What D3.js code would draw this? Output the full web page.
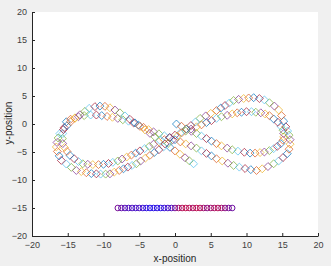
<!DOCTYPE html>
<html>
<head>
<meta charset="utf-8">
<script src="https://cdn.jsdelivr.net/npm/d3@7"></script>
<style>
  body { margin: 0; background: #f0f0f0; }
  svg { display: block; font-family: 'Liberation Sans', Arial, sans-serif; }
</style>
</head>
<body>
<svg class="chart"></svg>
<script>
// first lap of the estimated track (x, y)
const lap1 = [
  [0.2,0],[0.9,-0.4],[1.6,-0.85],[2.3,-1.3],[3,-1.7],[3.7,-2.15],[4.4,-2.6],[5.1,-3.05],[5.8,-3.5],
  [6.5,-3.9],[7.3,-4.3],[8,-4.6],[8.8,-4.85],[9.7,-5.05],[10.5,-5.2],[11.2,-5.2],[11.9,-5.1],[12.5,-5.0],
  [13.2,-4.75],[13.8,-4.4],[14.3,-4.0],[14.8,-3.5],[15.1,-2.9],[15.2,-2.3],[15.2,-1.7],[15.1,-1.1],
  [14.8,-0.4],[14.4,0.3],[13.8,0.9],[13.2,1.5],[12.6,1.8],[12,2.0],[11.3,2.1],[10.7,2.2],[10,2.2],
  [9.3,2.1],[8.7,2.0],[8,1.8],[7.3,1.55],[6.5,1.3],[5.8,1.0],[5.1,0.6],[4.4,0.25],[3.7,-0.15],[3,-0.5],
  [2.25,-0.9],[1.5,-1.25],[0.75,-1.6],[0,-2.0],[-0.75,-2.4],[-1.5,-2.8],[-2.25,-3.2],[-3,-3.6],
  [-3.6,-4.0],[-4.25,-4.4],[-4.9,-4.8],[-5.5,-5.2],[-6.1,-5.55],[-6.75,-5.9],[-7.4,-6.25],[-8,-6.6],
  [-8.7,-6.85],[-9.3,-7.05],[-10,-7.2],[-10.7,-7.25],[-11.5,-7.25],[-12.2,-7.2],[-12.9,-7.1],
  [-13.5,-6.7],[-14.1,-6.2],[-14.7,-5.6],[-15.1,-4.9],[-15.45,-4.2],[-15.7,-3.5],[-15.75,-2.6],
  [-15.7,-1.7],[-15.5,-0.65],[-15.2,0.4],[-14.6,0.85],[-14.0,1.1],[-13.5,1.3],[-12.7,1.5],[-11.8,1.6],
  [-11,1.6],[-10.25,1.5],[-9.5,1.35],[-8.75,1.2],[-8,1.0],[-7.3,0.75],[-6.5,0.5],[-5.8,0.2],
  [-5.1,-0.2],[-4.4,-0.6],[-3.7,-1.0],[-3,-1.4],[-2.25,-1.75],[-1.5,-2.1],[-0.75,-2.45],[0,-2.8],
  [0.75,-3.2],[1.5,-3.55],[2.25,-3.9],[3,-4.3],[3.7,-4.8],[4.4,-5.25],[5.1,-5.7],[5.8,-6.2],
  [6.6,-6.6],[7.4,-7.0],[8.2,-7.4],[9.0,-7.7],[9.8,-7.95],[10.6,-8.15],[11.4,-8.3]
];

// second lap, ends in the short tail below the centre
const lap2 = [
  [12.2,-8.0],[13.0,-7.6],[13.8,-7.1],[14.5,-6.6],[15.1,-6.0],[15.7,-5.3],[15.95,-4.5],[16.1,-3.6],
  [16.1,-2.8],[15.95,-2.0],[15.75,-1.25],[15.5,-0.5],[15.2,0.5],[14.9,1.5],[14.5,2.5],[13.9,3.2],
  [13.2,3.8],[12.5,4.3],[11.8,4.55],[11,4.7],[10.3,4.65],[9.6,4.55],[8.9,4.4],[8.2,4.2],[7.6,3.75],
  [7.0,3.3],[6.4,2.85],[5.8,2.4],[5.0,1.9],[4.3,1.45],[3.5,1.0],[2.86,0.36],[2.22,-0.28],[1.58,-0.91],
  [0.95,-1.55],[0.31,-2.19],[-0.33,-2.83],[-0.96,-3.46],[-1.6,-4.1],[-2.25,-4.6],[-2.9,-5.1],
  [-3.5,-5.6],[-4.15,-6.1],[-4.8,-6.6],[-5.4,-7.1],[-6.0,-7.4],[-6.6,-7.7],[-7.2,-8.0],[-7.8,-8.3],
  [-8.5,-8.6],[-9.1,-8.9],[-9.7,-8.95],[-10.4,-8.95],[-11,-8.9],[-11.7,-8.85],[-12.4,-8.7],
  [-13.1,-8.5],[-13.8,-8.3],[-14.5,-7.75],[-15.2,-7.15],[-15.9,-6.5],[-16.2,-5.7],[-16.45,-4.9],
  [-16.6,-4.1],[-16.5,-3.3],[-16.35,-2.5],[-16.1,-1.7],[-15.6,-1.0],[-15.1,-0.3],[-14.6,0.4],
  [-14,1.0],[-13.3,1.65],[-12.6,2.25],[-12,2.8],[-11.2,3.1],[-10.5,3.2],[-9.8,3.15],[-9.1,2.9],
  [-8.4,2.5],[-7.7,2.0],[-7.0,1.45],[-6.3,0.83],[-5.6,0.2],[-4.9,-0.42],[-4.2,-1.05],[-3.5,-1.67],
  [-2.8,-2.3],[-2.1,-2.92],[-1.4,-3.55],[-0.7,-4.17],[0,-4.8],[0.7,-5.4],[1.4,-6.03],[2.0,-6.57],
  [2.6,-7.1]
];

// row of anchors at y = -15 and how red each one is (0 blue .. 1 red)
const anchorX = [-8,-7.5,-7,-6.5,-6,-5.5,-5,-4.5,-4,-3.5,-3,-2.5,-2,-1.5,-1,-0.5,0,
                 0.5,1,1.5,2,2.5,3,3.5,4,4.5,5,5.5,6,6.5,7,7.5,8];
const anchorY = -15;
const anchorShade = [0.5,0.4,0.35,0.3,0.3,0.25,0.3,0.2,0.15,0.1,0.1,0.15,0.1,0.2,0.25,0.3,0.5,
                     0.7,0.8,0.85,0.8,0.75,0.85,0.8,0.7,0.6,0.7,0.75,0.8,0.7,0.6,0.5,0.45];

const ticks = [-20,-15,-10,-5,0,5,10,15,20];
const colorOrder = ['#0072BD','#D95319','#EDB120','#7E2F8E','#77AC30','#4DBEEE','#A2142F'];

const W = 331, H = 266;
const margins = {top: 12, right: 13, bottom: 30, left: 32};
const width = W - margins.left - margins.right,
      height = H - margins.top - margins.bottom;

const svg = d3.select('.chart').attr('width', W).attr('height', H);

svg.append('rect').attr('width', W).attr('height', H).attr('fill', '#f0f0f0');

const chart = svg.append('g')
  .attr('transform', 'translate(' + margins.left + ',' + margins.top + ')');

chart.append('rect').attr('width', width).attr('height', height).attr('fill', '#fff');

const xScale = d3.scaleLinear().domain([-20, 20]).range([0, width]);
const yScale = d3.scaleLinear().domain([-20, 20]).range([height, 0]);

const track = lap1.concat(lap2);
const diamond = d3.symbol().type(d3.symbolDiamond2).size(40);

chart.selectAll('.pt')
  .data(track)
  .enter().append('path')
  .attr('class', 'pt')
  .attr('d', diamond)
  .attr('transform', d => 'translate(' + xScale(d[0]) + ',' + yScale(d[1]) + ')')
  .attr('fill', 'none')
  .attr('stroke', (d, i) => colorOrder[i % colorOrder.length])
  .attr('stroke-opacity', 0.7)
  .attr('stroke-width', 1);

const shade = d3.scaleLinear().domain([0, 1]).range(['#1010ff', '#e01030']);

chart.selectAll('.anchor')
  .data(anchorX)
  .enter().append('circle')
  .attr('class', 'anchor')
  .attr('cx', d => xScale(d))
  .attr('cy', yScale(anchorY))
  .attr('r', 2.8)
  .attr('fill', 'none')
  .attr('stroke', (d, i) => shade(anchorShade[i]))
  .attr('stroke-width', 1);

const xAxis = chart.append('g')
  .attr('transform', 'translate(0,' + height + ')')
  .call(d3.axisBottom(xScale).tickValues(ticks).tickSizeInner(-3).tickSizeOuter(0).tickPadding(6));

const yAxis = chart.append('g')
  .call(d3.axisLeft(yScale).tickValues(ticks).tickSizeInner(-3).tickSizeOuter(0).tickPadding(5));

[xAxis, yAxis].forEach(ax => {
  ax.select('.domain').attr('stroke', '#262626');
  ax.selectAll('line').attr('stroke', '#262626');
  ax.selectAll('text').attr('fill', '#404040').style('font-size', '9px')
    .style('font-family', "'Liberation Sans', Arial, sans-serif");
});

chart.append('text')
  .style('font-size', '10px')
  .style('text-anchor', 'middle')
  .attr('fill', '#262626')
  .attr('x', width / 2)
  .attr('y', height + 26)
  .text('x-position');

chart.append('text')
  .style('font-size', '10px')
  .style('text-anchor', 'middle')
  .attr('fill', '#262626')
  .attr('x', height / -2 + 1)
  .attr('y', -20)
  .attr('transform', 'rotate(-90)')
  .text('y-position');
</script>
</body>
</html>
